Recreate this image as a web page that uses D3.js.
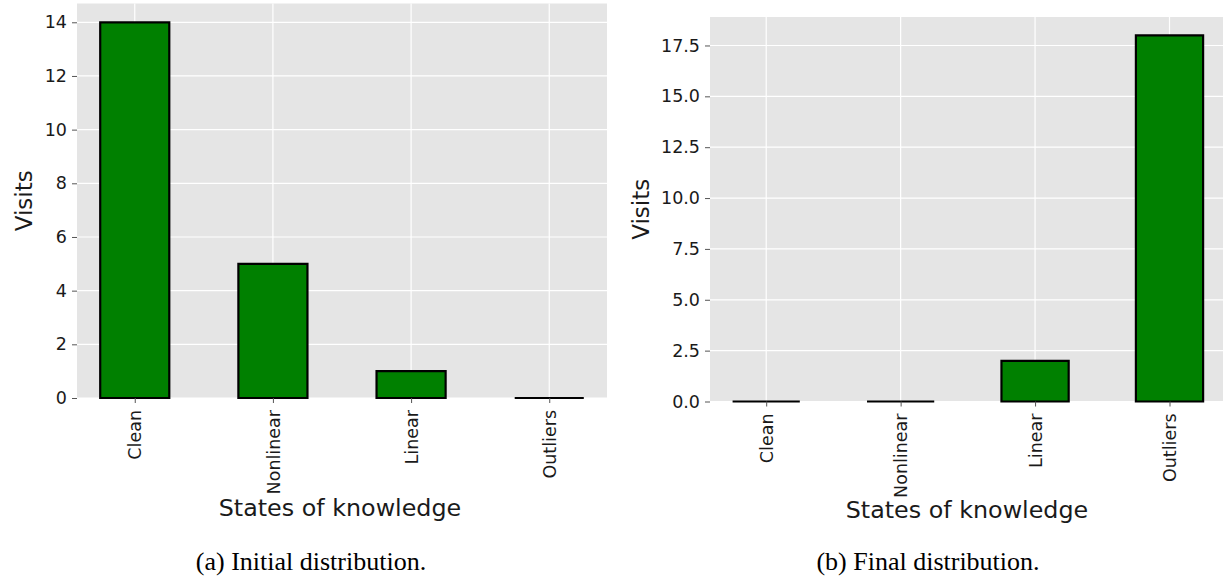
<!DOCTYPE html>
<html><head><meta charset="utf-8">
<script src="https://cdn.jsdelivr.net/npm/d3@7"></script>
<style>
body{margin:0;background:#fff;}
svg{display:block;}
</style></head>
<body><svg id="c" width="1223" height="577"></svg>
<script>
const categories = ["Clean", "Nonlinear", "Linear", "Outliers"];
const initialVisits = [14, 5, 1, 0];
const finalVisits = [0, 0, 2, 18];
const leftTicks = [0, 2, 4, 6, 8, 10, 12, 14];
const rightTicks = [0, 2.5, 5, 7.5, 10, 12.5, 15, 17.5];
const xLabel = "States of knowledge";
const yLabel = "Visits";
const captions = ["(a) Initial distribution.", "(b) Final distribution."];

const svg = d3.select("#c");
const panels = [
  {data: initialVisits, ticks: leftTicks, fmt: d3.format("d"), ymax: 14.7,
   x0: 77, x1: 607, yTop: 3.5, yBot: 398, ylabX: 24, xlabX: 340, xlabY: 516, capX: 311, capY: 570},
  {data: finalVisits, ticks: rightTicks, fmt: d3.format(".1f"), ymax: 18.9,
   x0: 710, x1: 1225.7, yTop: 17, yBot: 401.5, ylabX: 641, xlabX: 967, xlabY: 517.5, capX: 928, capY: 570}
];
const pad = 0.418;
panels.forEach((p, k) => {
  const x = d3.scaleLinear().domain([-pad, categories.length - 1 + pad]).range([p.x0, p.x1]);
  const y = d3.scaleLinear().domain([0, p.ymax]).range([p.yBot, p.yTop]);
  const g = svg.append("g");
  g.append("rect").attr("x", p.x0).attr("y", p.yTop).attr("width", p.x1 - p.x0)
    .attr("height", p.yBot - p.yTop).attr("fill", "#e5e5e5");
  g.selectAll(".hg").data(p.ticks).join("line")
    .attr("x1", p.x0).attr("x2", p.x1).attr("y1", d => y(d)).attr("y2", d => y(d))
    .attr("stroke", "#fff").attr("stroke-width", 1.2);
  g.selectAll(".vg").data(categories.map((c, i) => i)).join("line")
    .attr("y1", p.yTop).attr("y2", p.yBot).attr("x1", d => x(d)).attr("x2", d => x(d))
    .attr("stroke", "#fff").attr("stroke-width", 1.2);
  g.selectAll(".bar").data(p.data).join("path")
    .attr("d", (d, i) => {
      const a = x(i - 0.25), b = x(i + 0.25), t = y(d), z = y(0);
      return `M${a},${z}V${t}H${b}V${z}Z`;
    })
    .attr("fill", "#008000").attr("stroke", "#000").attr("stroke-width", 2.2);
  const ya = g.append("g").attr("transform", `translate(${p.x0},0)`)
    .call(d3.axisLeft(y).tickValues(p.ticks).tickFormat(p.fmt).tickSize(5).tickPadding(5));
  ya.select(".domain").remove();
  ya.selectAll("line").attr("stroke", "#555").attr("stroke-width", 1);
  ya.selectAll("text").attr("font-family", "DejaVu Sans").attr("font-size", 17.5).attr("fill", "#1a1a1a");
  const xa = g.append("g").attr("transform", `translate(0,${p.yBot})`)
    .call(d3.axisBottom(x).tickValues(categories.map((c, i) => i)).tickFormat(i => categories[i]).tickSize(5).tickPadding(5));
  xa.select(".domain").remove();
  xa.selectAll("line").attr("stroke", "#555").attr("stroke-width", 1);
  xa.selectAll("text").attr("font-family", "DejaVu Sans").attr("font-size", 17.5).attr("fill", "#1a1a1a")
    .attr("text-anchor", "end").attr("transform", "translate(0,12) rotate(-90)")
    .attr("x", 0).attr("y", 0).attr("dy", "0.35em");
  svg.append("text").attr("x", p.xlabX).attr("y", p.xlabY)
    .attr("text-anchor", "middle").attr("font-family", "DejaVu Sans").attr("font-size", 23.8)
    .attr("fill", "#1a1a1a").text(xLabel);
  svg.append("text").attr("transform", `translate(${p.ylabX + 8},${(p.yTop + p.yBot) / 2}) rotate(-90)`)
    .attr("text-anchor", "middle").attr("font-family", "DejaVu Sans").attr("font-size", 23)
    .attr("fill", "#1a1a1a").text(yLabel);
  svg.append("text").attr("x", p.capX).attr("y", p.capY).attr("text-anchor", "middle")
    .attr("font-family", "Liberation Serif").attr("font-size", 25).attr("fill", "#000")
    .attr("transform", `translate(${p.capX},0) scale(1.04,1) translate(${-p.capX},0)`)
    .text(captions[k]);
});
</script></body></html>
